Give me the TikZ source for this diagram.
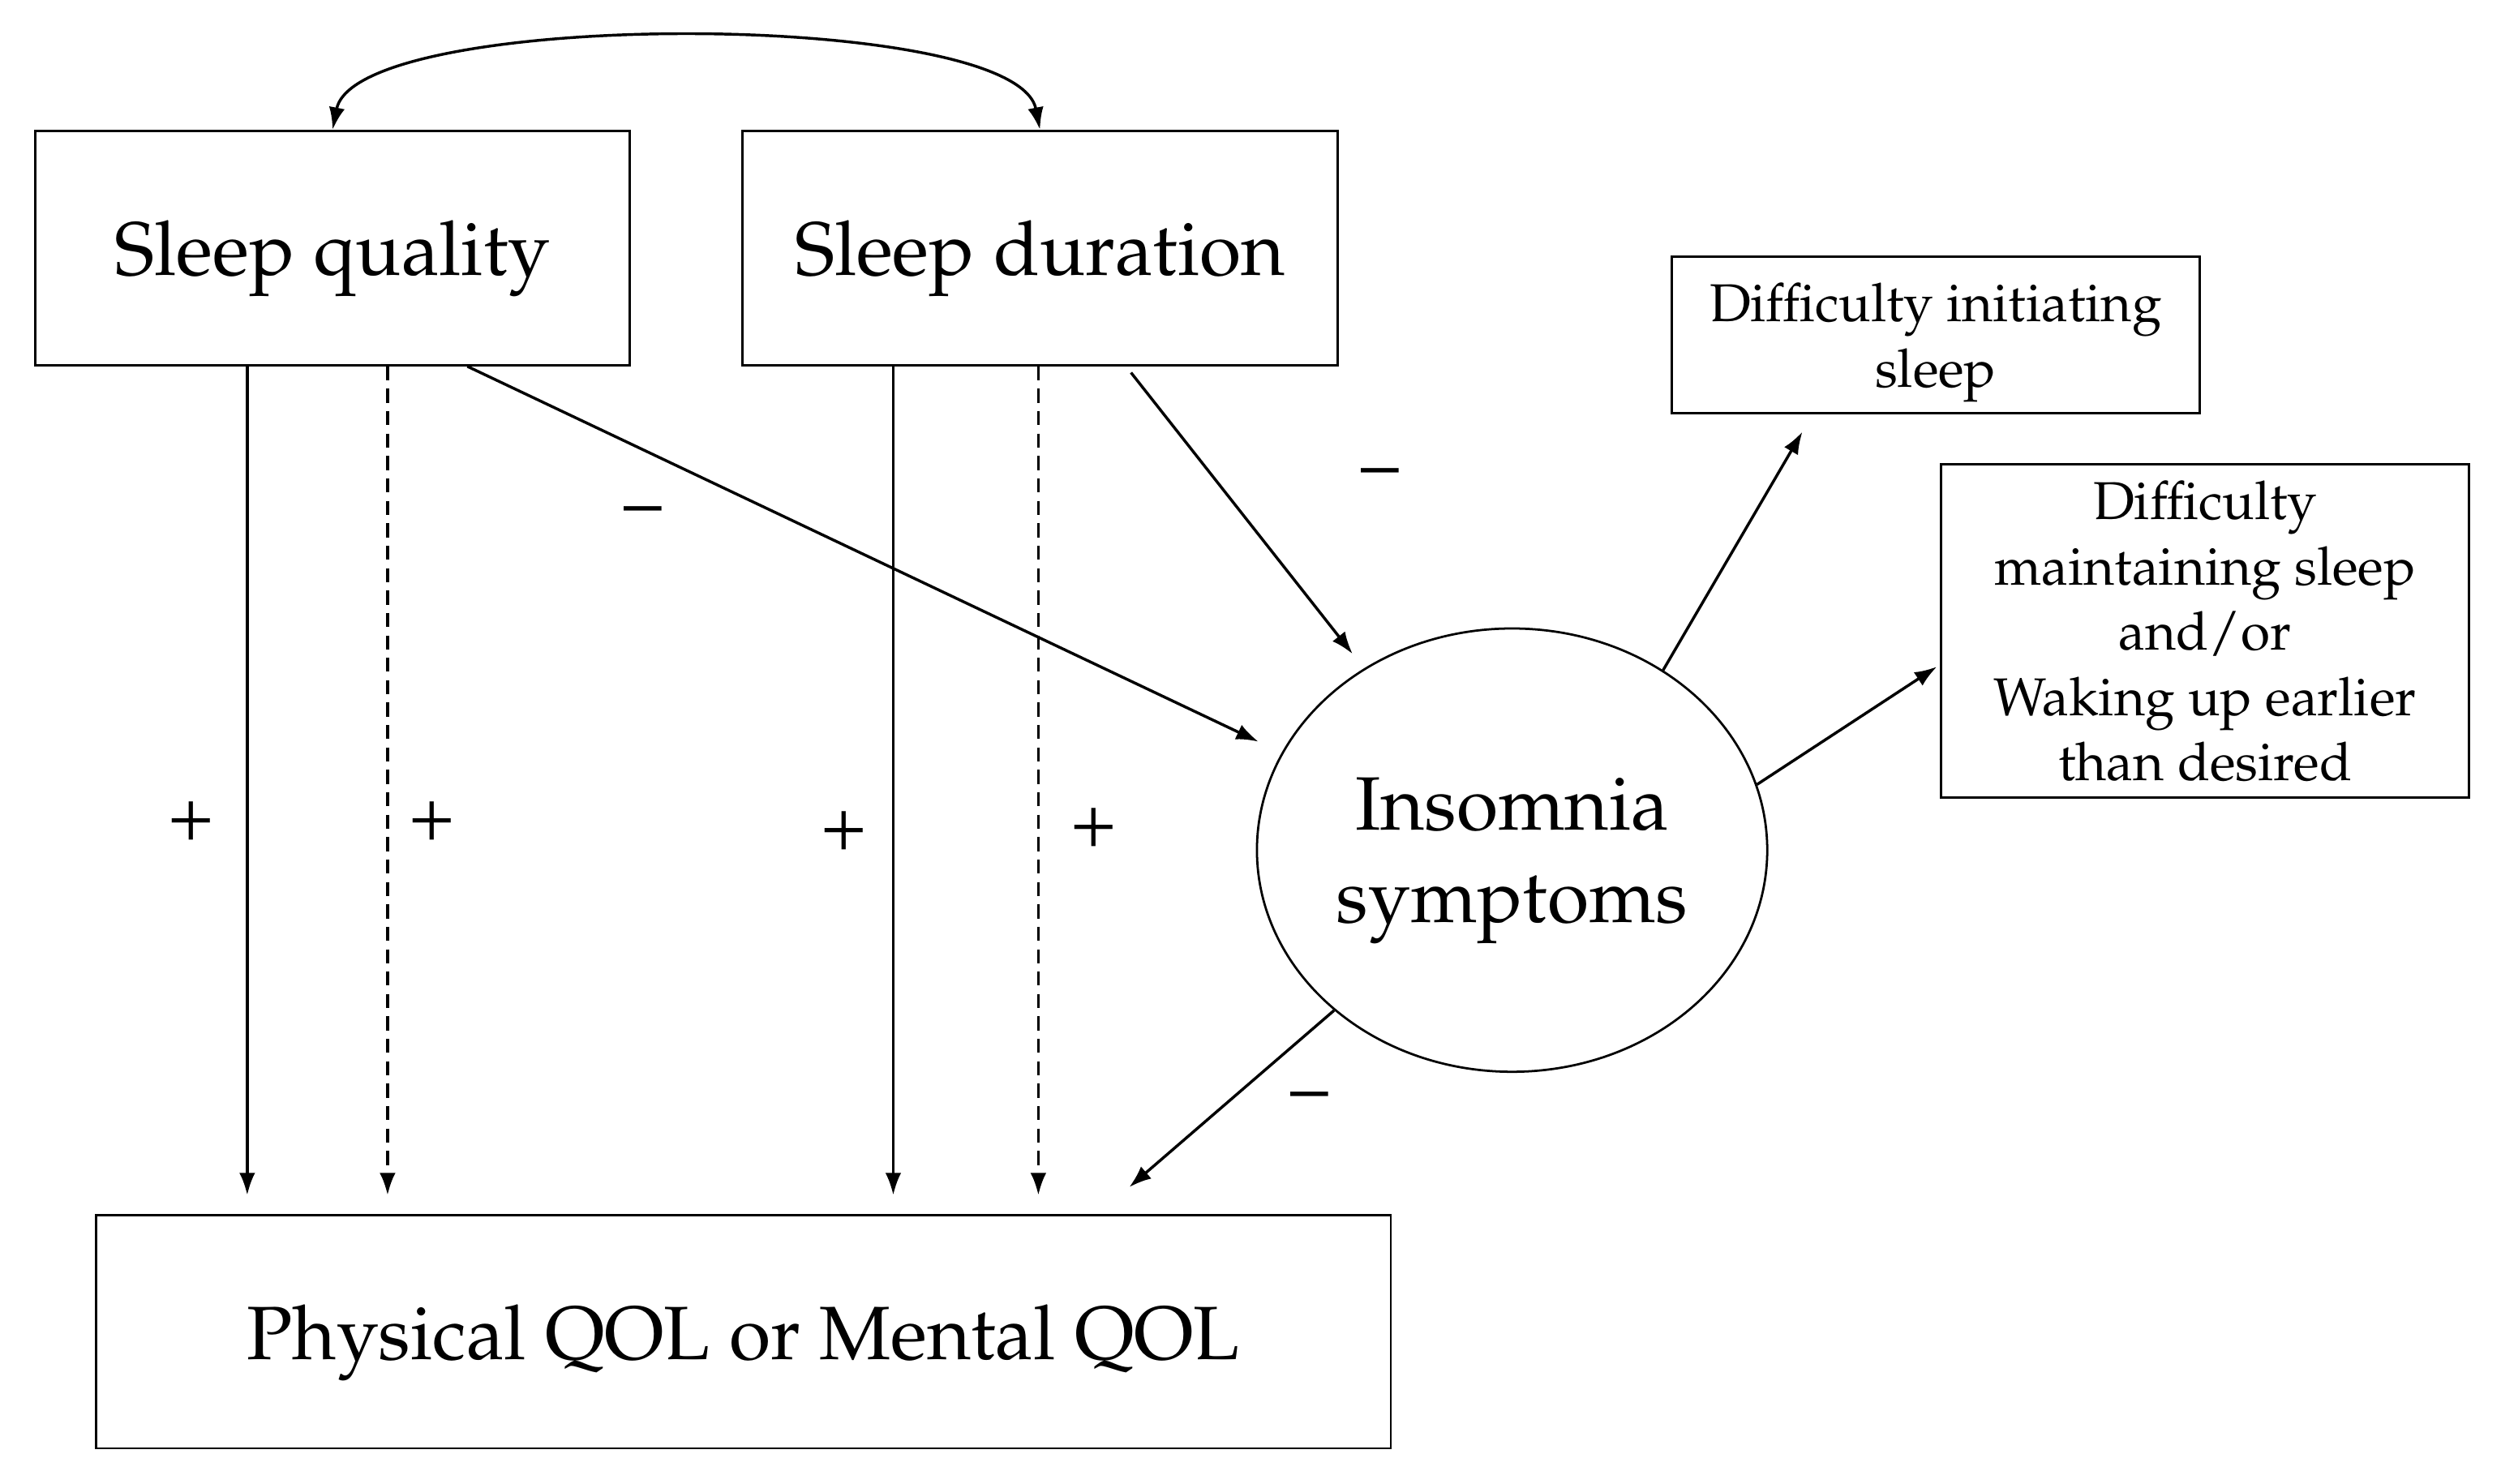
\documentclass[tikz,border=0pt]{standalone}
\usepackage[T1]{fontenc}
\usepackage{mathpazo}
\usetikzlibrary{arrows.meta,shapes.geometric}

\begin{document}
\begin{tikzpicture}[
    x=0.02cm, y=-0.02cm,
    >={Latex[length=0.28cm, width=0.2cm]},
    bigbox/.style={draw=black, line width=0.8pt, minimum width=7.46cm, minimum height=2.94cm, text depth=0pt, font=\fontsize{27}{33}\selectfont},
    smallbox/.style={draw=black, line width=0.8pt, align=center, text depth=0pt, font=\fontsize{19}{23.3}\selectfont},
    oval/.style={draw=black, line width=0.8pt, ellipse, minimum width=6.4cm, minimum height=5.56cm, inner sep=0pt, align=center, text depth=0pt, font=\fontsize{27}{33}\selectfont},
    link/.style={->, line width=1pt},
    downlink/.style={link, shorten >=0.24cm},
    dashlink/.style={downlink, dash pattern=on 5pt off 3pt},
    sign/.style={font=\fontsize{27}{33}\selectfont},
  ]

  \useasboundingbox (0,0) rectangle (1568,930);

  % Sleep measures, insomnia and outcome.
  \node[bigbox] (quality) at (208.5,155.5) {Sleep quality};
  \node[bigbox] (duration) at (652,155.5) {Sleep duration};
  \node[oval] (insomnia) at (948,533) {Insomnia\\symptoms};
  \node[bigbox, minimum width=16.24cm, minimum height=2.92cm] (qol) at (466,835) {Physical QOL or Mental QOL};

  % Insomnia subtypes.
  \node[smallbox, minimum width=6.62cm, minimum height=1.96cm] (initiate) at (1213.5,210)
    {Difficulty initiating\\sleep};
  \node[smallbox, minimum width=6.62cm, minimum height=4.18cm] (maintain) at (1382.5,395.5)
    {Difficulty\\maintaining sleep\\and/or\\Waking up earlier\\than desired};

  % Start points on the box bottoms, tips near the targets.
  \coordinate (q1) at ([xshift=-1.07cm]quality.south);
  \coordinate (q2) at ([xshift=0.69cm]quality.south);
  \coordinate (q3) at ([xshift=1.69cm]quality.south);
  \coordinate (d1) at ([xshift=-1.84cm]duration.south);
  \coordinate (d2) at ([xshift=-0.02cm]duration.south);
  \coordinate (d3) at ([xshift=1.08cm]duration.south);
  \coordinate (t1) at ([xshift=-3.18cm, yshift=1.36cm]insomnia.center);
  \coordinate (t2) at ([xshift=-2.0cm, yshift=2.46cm]insomnia.center);
  \coordinate (t3) at ([xshift=4.84cm, yshift=0.34cm]qol.north);
  \coordinate (t4) at ([xshift=-1.67cm, yshift=-0.22cm]initiate.south);
  \coordinate (t5) at ([xshift=-0.04cm, yshift=-0.45cm]maintain.west);

  % Correlation between quality and duration.
  \draw[<->, line width=1pt]
    (quality.north) .. controls +(15,-76) and +(-15,-76) .. (duration.north);

  % Direct (solid) and indirect (dashed) paths to QOL.
  \draw[downlink] (q1) -- (q1 |- qol.north);
  \draw[dashlink] (q2) -- (q2 |- qol.north);
  \draw[downlink] (d1) -- (d1 |- qol.north);
  \draw[dashlink] (d2) -- (d2 |- qol.north);

  % Paths through insomnia symptoms.
  \draw[link] (q3) -- (t1);
  \draw[link, shorten <=0.1cm] (d3) -- (t2);
  \draw[link] (insomnia.222) -- (t3);
  \draw[link] (insomnia.50) -- (t4);
  \draw[link] (insomnia.15) -- (t5);

  \node[sign] (p1) at (120,515) {+};
  \node[sign] (p2) at (271,515) {+};
  \node[sign] (p3) at (529,521) {+};
  \node[sign] (p4) at (686,519) {+};
  \node[sign] (m1) at (403,324) {\textendash};
  \node[sign] (m2) at (865,300) {\textendash};
  \node[sign] (m3) at (821,691) {\textendash};
\end{tikzpicture}
\end{document}
